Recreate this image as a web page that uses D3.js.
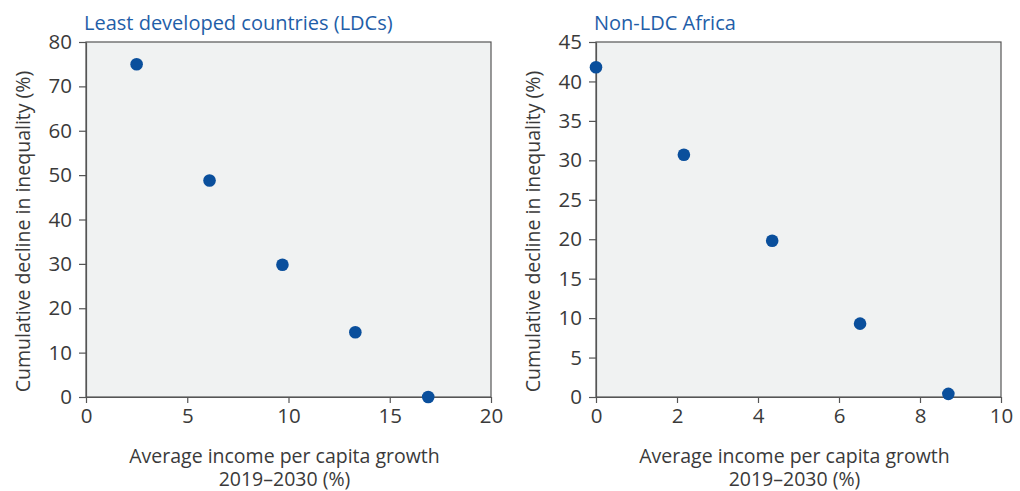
<!DOCTYPE html>
<html>
<head>
<meta charset="utf-8">
<script src="https://cdn.jsdelivr.net/npm/d3@7"></script>
<style>
  body { margin: 0; background: #fff; }
  svg text { font-family: "Open Sans", "Noto Sans", sans-serif; fill: #3a3a3a; }
  .title { fill: #1f5ea8; }
</style>
</head>
<body>
<div id="wrap"></div>
<script>
// data
const ldcGrowth = [2.5, 6.1, 9.7, 13.3, 16.9]
const ldcDecline = [75, 48.8, 29.8, 14.6, 0]
const africaGrowth = [0, 2.17, 4.35, 6.52, 8.7]
const africaDecline = [41.8, 30.7, 19.8, 9.3, 0.4]

const panels = [
  { title: "Least developed countries (LDCs)", xs: ldcGrowth, ys: ldcDecline,
    xMax: 20, xTicks: [0, 5, 10, 15, 20], yMax: 80, yTicks: [0, 10, 20, 30, 40, 50, 60, 70, 80], left: 86 },
  { title: "Non-LDC Africa", xs: africaGrowth, ys: africaDecline,
    xMax: 10, xTicks: [0, 2, 4, 6, 8, 10], yMax: 45, yTicks: [0, 5, 10, 15, 20, 25, 30, 35, 40, 45], left: 596 },
]

const dimensions = { width: 1020, height: 491, top: 42, plotWidth: 405, plotHeight: 355 }

const svg = d3.select("#wrap")
  .append("svg")
    .attr("width", dimensions.width)
    .attr("height", dimensions.height)

panels.forEach(p => {
  const bounds = svg.append("g")
      .attr("transform", `translate(${p.left}, ${dimensions.top})`)

  const xScale = d3.scaleLinear()
    .domain([0, p.xMax])
    .range([0, dimensions.plotWidth])

  const yScale = d3.scaleLinear()
    .domain([0, p.yMax])
    .range([dimensions.plotHeight, 0])

  bounds.append("rect")
      .attr("width", dimensions.plotWidth)
      .attr("height", dimensions.plotHeight)
      .attr("fill", "#f0f2f2")
      .attr("stroke", "#555")
      .attr("stroke-width", 1.2)

  const xAxis = bounds.append("g")
      .attr("transform", `translate(0, ${dimensions.plotHeight})`)
      .call(d3.axisBottom(xScale).tickValues(p.xTicks).tickSize(6).tickPadding(5).tickSizeOuter(0))
  const yAxis = bounds.append("g")
      .call(d3.axisLeft(yScale).tickValues(p.yTicks).tickSize(7).tickPadding(7).tickSizeOuter(0))

  ;[xAxis, yAxis].forEach(a => {
    a.select(".domain").attr("stroke", "#555").attr("stroke-width", 1.2)
    a.selectAll(".tick line").attr("stroke", "#555").attr("stroke-width", 1.2)
    a.selectAll(".tick text").style("font-size", "20.5px").attr("fill", "#3a3a3a")
  })

  bounds.selectAll("circle")
    .data(p.xs.map((x, i) => [x, p.ys[i]]))
    .enter().append("circle")
      .attr("cx", d => xScale(d[0]))
      .attr("cy", d => yScale(d[1]))
      .attr("r", 6.3)
      .attr("fill", "#0a4f9c")

  bounds.append("text")
      .attr("class", "title")
      .attr("x", -2)
      .attr("y", -12)
      .style("font-size", "20px")
      .text(p.title)

  const xLabel = bounds.append("text")
      .attr("text-anchor", "middle")
      .style("font-size", "19.5px")
  xLabel.append("tspan")
      .attr("x", dimensions.plotWidth / 2 - 4)
      .attr("y", dimensions.plotHeight + 66)
      .text("Average income per capita growth")
  xLabel.append("tspan")
      .attr("x", dimensions.plotWidth / 2 - 4)
      .attr("y", dimensions.plotHeight + 89)
      .text("2019\u20132030 (%)")

  bounds.append("text")
      .attr("text-anchor", "middle")
      .attr("transform", `translate(-56, ${dimensions.plotHeight / 2 + 12}) rotate(-90)`)
      .style("font-size", "19.5px")
      .text("Cumulative decline in inequality (%)")
})
</script>
</body>
</html>
